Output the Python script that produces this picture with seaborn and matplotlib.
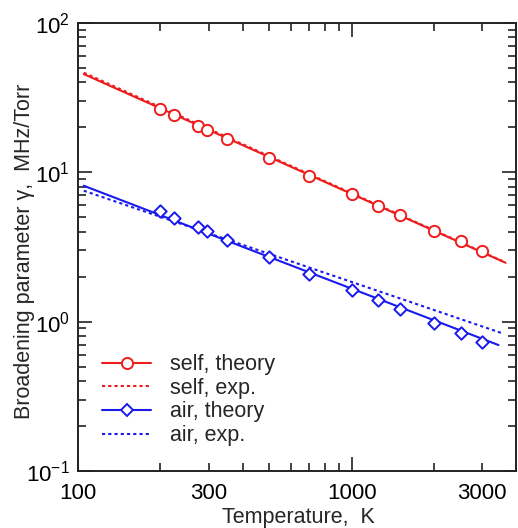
import numpy as np
import pandas as pd
import matplotlib
matplotlib.use("Agg")
import matplotlib.pyplot as plt
from matplotlib.lines import Line2D
from matplotlib.ticker import LogLocator, FixedLocator, FixedFormatter, NullFormatter
import seaborn as sns

# ---- data ----
T_points = [200, 225, 275, 296, 350, 500, 700, 1000, 1250, 1500, 2000, 2500, 3000]
self_theory = [26.5, 24.2, 20.3, 19.2, 16.6, 12.5, 9.49, 7.12, 5.95, 5.18, 4.06, 3.47, 2.98]
air_theory = [5.48, 4.92, 4.28, 4.03, 3.54, 2.70, 2.10, 1.63, 1.40, 1.21, 0.974, 0.835, 0.726]

T_self_line = [105, 3650]
self_theory_line = [45.5, 2.48]
T_self_exp = [105, 3600]
self_exp_line = [46.5, 2.52]
T_air_line = [105, 3440]
air_theory_line = [8.13, 0.697]
T_air_exp = [105, 3530]
air_exp_line = [7.53, 0.839]

x_tick_labels = ["100", "300", "1000", "3000"]

sns.set_theme(style="ticks")
plt.rcParams['font.family'] = ['Liberation Sans', 'DejaVu Sans']
plt.rcParams['mathtext.fontset'] = 'custom'
plt.rcParams['mathtext.rm'] = 'Liberation Sans'
plt.rcParams['mathtext.it'] = 'Liberation Sans:italic'
plt.rcParams['mathtext.bf'] = 'Liberation Sans:bold'

RED = '#ee1c1c'
BLUE = '#1a1aee'

fig = plt.figure(figsize=(5.18, 5.28), dpi=100)
ax = fig.add_axes([0.1506, 0.108, 0.8464, 0.8484])

lw = 1.5
dot = (0, (1.5, 1.5))
sns.lineplot(x=T_self_line, y=self_theory_line, ax=ax, color=RED, lw=lw, legend=False)
sns.lineplot(x=T_self_exp, y=self_exp_line, ax=ax, color=RED, lw=lw, ls=dot, legend=False)
sns.lineplot(x=T_air_line, y=air_theory_line, ax=ax, color=BLUE, lw=lw, legend=False)
sns.lineplot(x=T_air_exp, y=air_exp_line, ax=ax, color=BLUE, lw=lw, ls=dot, legend=False)
sns.scatterplot(x=T_points, y=self_theory, ax=ax, marker='o', s=66, facecolor='white',
                edgecolor=RED, linewidth=1.4, zorder=5, legend=False)
sns.scatterplot(x=T_points, y=air_theory, ax=ax, marker='D', s=40, facecolor='white',
                edgecolor=BLUE, linewidth=1.4, zorder=5, legend=False)

ax.set_xscale('log')
ax.set_yscale('log')
ax.set_xlim(100, 4000)
ax.set_ylim(0.1, 100)

# ticks
ax.xaxis.set_major_locator(FixedLocator([100, 1000]))
ax.xaxis.set_major_formatter(FixedFormatter(["100", "1000"]))
ax.xaxis.set_minor_locator(LogLocator(base=10, subs=np.arange(2, 10), numticks=20))
def minor_fmt(v, pos):
    for lab in x_tick_labels:
        if abs(v - float(lab)) < 1e-6 * float(lab):
            return lab
    return ""
ax.xaxis.set_minor_formatter(matplotlib.ticker.FuncFormatter(minor_fmt))
ax.yaxis.set_major_locator(LogLocator(base=10, numticks=10))
ax.yaxis.set_minor_locator(LogLocator(base=10, subs=np.arange(2, 10), numticks=20))
ax.yaxis.set_minor_formatter(NullFormatter())

ax.tick_params(which='both', direction='in', top=True, right=True, colors='#222222',
               labelcolor='black', labelsize=16)
ax.tick_params(which='major', length=10, width=1.2)
ax.tick_params(which='minor', length=6, width=1.2)
ax.tick_params(axis='x', which='both', pad=8.5)
ax.tick_params(axis='y', which='both', pad=6)
for s in ax.spines.values():
    s.set_linewidth(1.4)
    s.set_color('#222222')

ax.set_xlabel("Temperature,  K", fontsize=15.5)
ax.set_ylabel("Broadening parameter \u03b3,  MHz/Torr", fontsize=15.5)
ax.xaxis.set_label_coords(0.503, -0.08)
ax.yaxis.set_label_coords(-0.099, 0.491)

handles = [
    Line2D([], [], color=RED, lw=lw, marker='o', ms=8, mfc='white', mec=RED, mew=1.4),
    Line2D([], [], color=RED, lw=lw, ls=dot),
    Line2D([], [], color=BLUE, lw=lw, marker='D', ms=6, mfc='white', mec=BLUE, mew=1.4),
    Line2D([], [], color=BLUE, lw=lw, ls=dot),
]
labels = ["self, theory", "self, exp.", "air, theory", "air, exp."]
ax.legend(handles, labels, loc='upper left', bbox_to_anchor=(0.055, 0.261), frameon=False,
          fontsize=15.5, handlelength=2.28, handletextpad=0.85, labelspacing=0.125,
          borderaxespad=0, borderpad=0)

fig.savefig("out.png", dpi=100)
